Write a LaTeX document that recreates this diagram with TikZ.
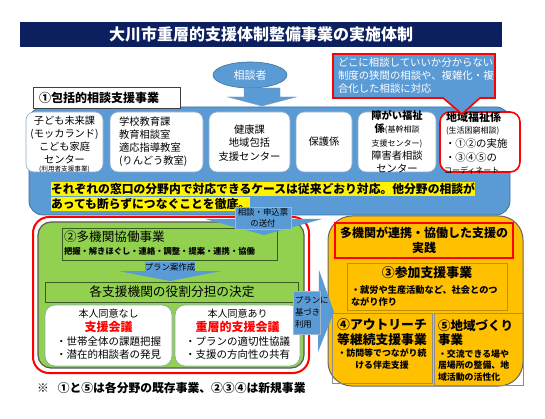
\documentclass[tikz,border=0pt]{standalone}
\usepackage{fontspec}
\setmainfont{Noto Sans CJK JP}
\usetikzlibrary{shapes.geometric}
\definecolor{navy}{RGB}{12,31,94}
\definecolor{mblue}{RGB}{91,155,213}
\definecolor{dblue}{RGB}{65,113,156}
\definecolor{mgreen}{RGB}{146,208,80}
\definecolor{dgreen}{RGB}{60,90,35}
\definecolor{morange}{RGB}{255,192,0}
\definecolor{ogold}{RGB}{191,144,0}
\newcommand\myfs[2]{\fontsize{#1}{#2}\selectfont}
\begin{document}
\begin{tikzpicture}[x=1pt,y=-1pt,
  every node/.style={inner sep=0pt, outer sep=0pt},
  wbox/.style={draw=dblue!60, fill=white, rounded corners=8pt, line width=0.6pt},
  lbox/.style={draw=dblue!60, fill=white, rounded corners=10pt, line width=0.8pt},
  gbox/.style={draw=dgreen, fill=mgreen, line width=0.7pt},
  obox/.style={draw=black!45, line width=0.6pt},
  bluefill/.style={fill=mblue},
  lt/.style={anchor=west, align=left},
]
\useasboundingbox (0,0) rectangle (545,419);
\fill[white] (0,0) rectangle (545,419);

% title
\node[fill=navy, minimum width=482, minimum height=25, text=white,
      font=\bfseries\myfs{16}{16}] (title) at (261,34.5) {大川市重層的支援体制整備事業の実施体制};

% client
\node[ellipse, fill=mblue, draw=dblue, line width=0.6pt, minimum width=74, minimum height=26,
      text=white, font=\myfs{11}{11}] (client) at (250,75) {相談者};

% blue band
\node[fill=mblue, draw=dblue, line width=0.8pt, rounded corners=14pt,
      minimum width=481, minimum height=108] (band) at (269.5,161) {};

% down arrow
\coordinate (arT) at (262,88);
\fill[mblue, draw=dblue!70, line width=0.4pt] (244,88) -- (280,88) -- (280,97) -- (296,97)
   -- (262,106) -- (228,97) -- (244,97) -- cycle;

% label 1
\node[draw=black!75, fill=white, line width=0.6pt, minimum width=147, minimum height=21] (lab1) at (106.5,98) {};
\node[lt, font=\bfseries\myfs{12}{12}] (lab1t) at (39,98) {①包括的相談支援事業};

% six desks
\node[wbox, minimum width=77, minimum height=60] (b1) at (64.5,142) {};
\node[align=center, font=\myfs{10.2}{13}] (b1t) at (64.5,139.5) {子ども未来課\\(モッカランド)\\こども家庭\\センター};
\node[font=\myfs{6.6}{7}] (b1s) at (64.5,169) {(利用者支援事業)};

\node[wbox, minimum width=93, minimum height=60] (b2) at (156.5,142) {};
\node[lt, font=\myfs{10.3}{13}] (b2t) at (119,142) {学校教育課\\教育相談室\\適応指導教室\\(りんどう教室)};

\node[wbox, minimum width=81, minimum height=60] (b3) at (249.5,142) {};
\node[align=center, font=\myfs{10.3}{13.5}] (b3t) at (249.5,143) {健康課\\地域包括\\支援センター};

\node[wbox, minimum width=56, minimum height=60] (b4) at (324,142) {};
\node[font=\myfs{10.3}{13}] (b4t) at (324,142) {保護係};

\node[wbox, minimum width=78, minimum height=60] (b5) at (397,142) {};
\node[align=center, font=\myfs{10.3}{13.3}] (b5t) at (397,142) {\textbf{障がい福祉}\\\textbf{係}{\myfs{8}{9}(基幹相談}\\{\myfs{8}{9}支援センター)}\\障害者相談\\センター};

\node[draw=red, fill=white, line width=1.6pt, rounded corners=10pt, minimum width=80, minimum height=60] (b6) at (480,142) {};
\node[lt, font=\bfseries\myfs{11}{11}] (b6a) at (446,117) {地域福祉係};
\node[lt, font=\myfs{8}{8}] (b6b) at (446,131) {(生活困窮相談)};
\node[lt, font=\myfs{10.4}{10.4}] (b6c) at (445,144) {・①②の実施};
\node[lt, font=\myfs{10.4}{10.4}] (b6d) at (445,158) {・③④⑤の};
\node[lt, font=\myfs{8}{8}] (b6e) at (444,170) {コーディネート};

% yellow text
\node[lt, fill=yellow, inner ysep=1.6pt, font=\bfseries\myfs{11.8}{11.8}] (y1) at (51,189) {それぞれの窓口の分野内で対応できるケースは従来どおり対応。他分野の相談が};
\node[lt, fill=yellow, inner ysep=1.6pt, font=\bfseries\myfs{11.8}{11.8}] (y2) at (51,204) {あっても断らずにつなぐことを徹底。};

% callout top right
\coordinate (cTip) at (462,114);
\filldraw[fill=mblue, draw=red, line width=1.6pt] (333,54) -- (495,54) -- (495,98) -- (480,98)
   -- (cTip) -- (443,98) -- (333,98) -- cycle;
\node[lt, text=white, font=\myfs{10.4}{13}] (cText) at (338,76) {どこに相談していいか分からない\\制度の狭間の相談や、複雑化・複\\合化した相談に対応};

% left: red + green
\node[draw=red, line width=2pt, fill=white, rounded corners=16pt, minimum width=276, minimum height=156] (redo) at (171,295) {};
\node[draw=black!65, line width=1.2pt, fill=mgreen, rounded corners=13pt, minimum width=266, minimum height=146] (green) at (171,295) {};

\node[gbox, minimum width=215, minimum height=32] (two) at (169.5,244) {};
\node[lt, font=\myfs{12.6}{12.6}] (twoa) at (64,237) {②多機関協働事業};
\node[lt, font=\bfseries\myfs{8.3}{8.3}] (twob) at (64,251.5) {把握・解きほぐし・連絡・調整・提案・連携・協働};

% plan arrow
\fill[mblue] (118,271) -- (222,271) -- (170,281) -- cycle;
\node[bluefill, minimum width=50, minimum height=12] (planbox) at (170,268) {};
\node[font=\myfs{8.4}{8.4}] (plant) at (170,267.5) {プラン案作成};

\node[gbox, minimum width=253, minimum height=20] (role) at (171.5,292) {};
\node[font=\myfs{12.7}{12.7}] (rolet) at (172,292) {各支援機関の役割分担の決定};

\node[lbox, minimum width=127, minimum height=61] (L) at (108.5,335.5) {};
\node[font=\myfs{10}{10}] (La) at (108.5,313.5) {本人同意なし};
\node[text=red, font=\bfseries\myfs{12}{12}] (Lb) at (108.5,327) {支援会議};
\node[font=\myfs{10.5}{10.5}] (Lc) at (108.5,341.5) {・世帯全体の課題把握};
\node[font=\myfs{10.5}{10.5}] (Ld) at (108.5,355) {・潜在的相談者の発見};

\node[lbox, minimum width=125, minimum height=61] (R) at (237.5,335.5) {};
\node[font=\myfs{10}{10}] (Ra) at (237.5,313.5) {本人同意あり};
\node[text=red, font=\bfseries\myfs{12}{12}] (Rb) at (237.5,327) {重層的支援会議};
\node[font=\myfs{10.5}{10.5}] (Rc) at (237.5,341.5) {・プランの適切性協議};
\node[font=\myfs{10.5}{10.5}] (Rd) at (237.5,355) {・支援の方向性の共有};

% right: orange
\node[fill=morange, draw=black!60, line width=1pt, rounded corners=24pt, minimum width=195, minimum height=170] (orange) at (425.5,301) {};
\node[draw=red, line width=1.6pt, minimum width=178, minimum height=35, align=center,
      font=\bfseries\myfs{12}{14.5}] (prac) at (424,240.5) {多機関が連携・協働した支援の\\実践};

\node[draw=ogold, line width=0.6pt, minimum width=160, minimum height=47] (three) at (427,286.5) {};
\node[font=\bfseries\myfs{12.9}{12.9}] (threea) at (427,273) {③参加支援事業};
\node[lt, font=\bfseries\myfs{9.2}{12}] (threeb) at (351,295.5) {・就労や生産活動など、社会とのつ\\ながり作り};

\node[obox, minimum width=100, minimum height=70] (four) at (382,348) {};
\node[align=center, font=\bfseries\myfs{12.8}{14.5}] (foura) at (382,332) {④アウトリーチ\\等継続支援事業};
\node[align=center, font=\bfseries\myfs{8.9}{11.5}] (fourb) at (382,359) {・訪問等でつながり続\\ける伴走支援};

\node[obox, minimum width=89, minimum height=72] (five) at (478.5,349) {};
\node[lt, font=\bfseries\myfs{12.5}{14.5}] (fivea) at (438,332.5) {⑤地域づくり\\事業};
\node[lt, font=\bfseries\myfs{8.9}{11.5}] (fiveb) at (438,365.5) {・交流できる場や\\居場所の整備、地\\域活動の活性化};

% callout: send
\fill[mblue] (205,219) -- (322,219) -- (264,235) -- cycle;
\node[bluefill, draw=dblue!50, line width=0.4pt, minimum width=56, minimum height=22] (send) at (263,218) {};
\node[align=center, font=\myfs{8.4}{10.5}] (sendt) at (263,218) {相談・申込票\\の送付};

% callout: plan use
\fill[mblue] (319,270) -- (334,312) -- (318,352) -- cycle;
\node[bluefill, draw=dblue!50, line width=0.4pt, minimum width=27, minimum height=43] (use) at (306.5,312.5) {};
\node[lt, font=\myfs{8.4}{12}] (uset) at (295,312.5) {プランに\\基づき\\利用};

% note
\node[lt, font=\bfseries\myfs{11.8}{11.8}] (note) at (37,388) {※\hspace{9pt}①と⑤は各分野の既存事業、②③④は新規事業};
\end{tikzpicture}
\end{document}
